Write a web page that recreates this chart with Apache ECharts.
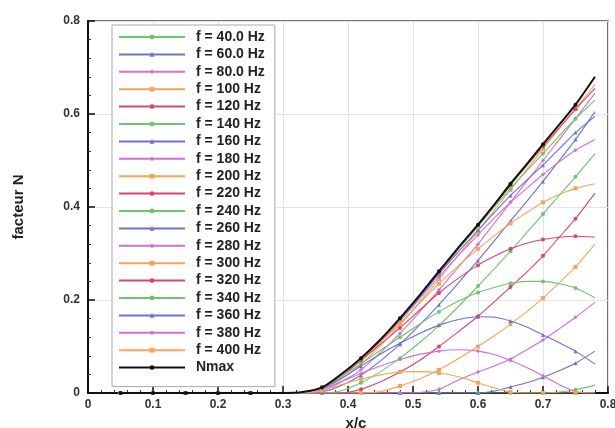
<!DOCTYPE html>
<html><head><meta charset="utf-8">
<script src="https://cdn.jsdelivr.net/npm/echarts@6/dist/echarts.min.js"></script>
<style>html,body{margin:0;padding:0;background:#fff}#c{width:615px;height:428px}</style>
</head><body><div id="c"></div>
<script>
// x positions (x/c) at which N values were read
const xs = [0.05, 0.10, 0.15, 0.20, 0.25, 0.30, 0.33, 0.36, 0.39, 0.42, 0.45, 0.48, 0.51, 0.54, 0.57, 0.60, 0.625, 0.65, 0.675, 0.70, 0.725, 0.75, 0.78];
const names = ["f = 40.0 Hz","f = 60.0 Hz","f = 80.0 Hz","f = 100 Hz","f = 120 Hz","f = 140 Hz","f = 160 Hz","f = 180 Hz","f = 200 Hz","f = 220 Hz","f = 240 Hz","f = 260 Hz","f = 280 Hz","f = 300 Hz","f = 320 Hz","f = 340 Hz","f = 360 Hz","f = 380 Hz","f = 400 Hz","Nmax"];
const Z = [0,0,0,0,0,0,0];
const f40  = Z.concat([0,0,0,0,0,0,0,0,0,0,0,0,0,0.002,0.007,0.017]);
const f60  = Z.concat([0,0,0,0,0,0,0,0,0,0.004,0.013,0.022,0.034,0.048,0.064,0.09]);
const f80  = Z.concat([0,0,0,0,0,0.001,0.008,0.028,0.045,0.058,0.073,0.093,0.114,0.138,0.163,0.195]);
const f100 = Z.concat([0,0,0,0.003,0.015,0.03,0.05,0.074,0.1,0.123,0.148,0.175,0.204,0.237,0.271,0.32]);
const f120 = Z.concat([0,0,0.008,0.024,0.045,0.07,0.1,0.132,0.165,0.196,0.228,0.26,0.295,0.335,0.375,0.43]);
const f140 = Z.concat([0,0.005,0.022,0.046,0.075,0.108,0.145,0.186,0.23,0.267,0.305,0.345,0.385,0.425,0.465,0.515]);
const f160 = Z.concat([0.002,0.016,0.038,0.069,0.105,0.146,0.19,0.237,0.285,0.327,0.37,0.412,0.455,0.5,0.545,0.605]);
const f180 = Z.concat([0.004,0.024,0.05,0.087,0.128,0.174,0.222,0.271,0.32,0.365,0.41,0.455,0.5,0.545,0.59,0.645]);
const f200 = Z.concat([0.007,0.03,0.062,0.102,0.146,0.195,0.245,0.297,0.348,0.393,0.437,0.481,0.525,0.569,0.612,0.663]);
const f220 = Z.concat([0.009,0.036,0.07,0.11,0.156,0.206,0.258,0.31,0.36,0.404,0.447,0.489,0.53,0.57,0.61,0.655]);
const f240 = Z.concat([0.011,0.04,0.074,0.115,0.16,0.209,0.26,0.31,0.358,0.4,0.44,0.478,0.515,0.553,0.59,0.63]);
const f260 = Z.concat([0.012,0.041,0.075,0.114,0.158,0.206,0.256,0.304,0.35,0.388,0.425,0.458,0.49,0.525,0.56,0.595]);
const f280 = Z.concat([0.012,0.04,0.074,0.112,0.155,0.202,0.25,0.296,0.34,0.376,0.41,0.44,0.47,0.497,0.522,0.545]);
const f300 = Z.concat([0.012,0.04,0.072,0.11,0.15,0.193,0.235,0.274,0.31,0.338,0.365,0.388,0.41,0.427,0.44,0.45]);
const f320 = Z.concat([0.012,0.04,0.07,0.105,0.14,0.178,0.215,0.247,0.275,0.294,0.31,0.322,0.33,0.335,0.337,0.335]);
const f340 = Z.concat([0.011,0.036,0.063,0.092,0.12,0.148,0.175,0.198,0.216,0.227,0.236,0.24,0.24,0.235,0.226,0.205]);
const f360 = Z.concat([0.01,0.032,0.058,0.084,0.107,0.128,0.146,0.158,0.164,0.163,0.155,0.142,0.125,0.108,0.09,0.062]);
const f380 = Z.concat([0.008,0.025,0.042,0.058,0.072,0.083,0.09,0.093,0.09,0.083,0.07,0.055,0.037,0.018,0.003,0]);
const f400 = Z.concat([0.006,0.018,0.03,0.039,0.045,0.046,0.043,0.035,0.022,0.011,0.002,0,0,0,0,0]);
const nmax = [0,0,0,0,0,0,0.002,0.012,0.041,0.075,0.115,0.161,0.21,0.262,0.313,0.362,0.405,0.45,0.492,0.535,0.577,0.62,0.68];
const allY = [f40,f60,f80,f100,f120,f140,f160,f180,f200,f220,f240,f260,f280,f300,f320,f340,f360,f380,f400,nmax];
const xTicks = ["0","0.1","0.2","0.3","0.4","0.5","0.6","0.7","0.8"];
const yTicks = ["0","0.2","0.4","0.6","0.8"];

// style
const palette = ['#6cc66c','#6b73cc','#d070d0','#f2a55a','#d8466a'];
const shapes = ['circle','triangle','diamond','rect','circle'];
const markAt = new Set([0.05,0.10,0.15,0.20,0.25,0.36,0.42,0.48,0.54,0.60,0.65,0.70,0.75]);

const series = allY.map((ys, i) => {
  const isMax = i === allY.length - 1;
  const color = isMax ? '#111' : palette[i % 5];
  const shape = isMax ? 'circle' : shapes[i % 5];
  return {
    name: names[i], type: 'line', smooth: 0.25,
    z: isMax ? 10 : 2,
    symbol: shape, symbolSize: 4,
    lineStyle: {color: color, width: isMax ? 2 : 1.1},
    itemStyle: {color: color},
    data: xs.map((x, k) => ({value: [x, ys[k]], symbol: markAt.has(x) ? shape : 'none'})),
    animation: false
  };
});

const fontFam = '"Liberation Sans", Arial, sans-serif';
const chart = echarts.init(document.getElementById('c'), null, {renderer: 'canvas'});
chart.setOption({
  animation: false,
  grid: {left: 88, right: 7, top: 21, bottom: 35, containLabel: false, outerBoundsMode: 'none',
    show: true, borderColor: '#444', borderWidth: 1.5, backgroundColor: '#fff'},
  legend: {
    orient: 'vertical', left: 112, top: 25, itemWidth: 66, itemHeight: 6, itemGap: 3.4,
    backgroundColor: '#fff', borderColor: '#aaa', borderWidth: 1, padding: [5, 10, 12, 6],
    textStyle: {fontFamily: fontFam, fontWeight: 'bold', fontSize: 14, lineHeight: 14, color: '#222', padding: [0,0,0,6]},
    data: names
  },
  xAxis: {
    type: 'value', min: 0, max: 0.8, interval: 0.1,
    name: 'x/c', nameLocation: 'middle', nameGap: 17,
    nameTextStyle: {fontFamily: fontFam, fontWeight: 'bold', fontSize: 15, color: '#222', padding: [0,0,0,16]},
    axisLine: {show: true, lineStyle: {color: '#111', width: 2}},
    axisTick: {show: true, inside: true, length: 7, lineStyle: {color: '#111', width: 1.5}},
    minorTick: {show: true, splitNumber: 5, length: 3, lineStyle: {color: '#333'}},
    axisLabel: {fontFamily: fontFam, fontWeight: 'bold', fontSize: 12, color: '#333', margin: 6,
      formatter: v => xTicks[Math.round(v * 10)]},
    splitLine: {show: true, lineStyle: {color: '#e4e4e4', width: 1}}
  },
  yAxis: {
    type: 'value', min: 0, max: 0.8, interval: 0.2,
    name: 'facteur N', nameLocation: 'middle', nameGap: 62,
    nameTextStyle: {fontFamily: fontFam, fontWeight: 'bold', fontSize: 15, color: '#222'},
    axisLine: {show: true, lineStyle: {color: '#111', width: 2}},
    axisTick: {show: true, inside: true, length: 7, lineStyle: {color: '#111', width: 1.5}},
    minorTick: {show: true, splitNumber: 5, length: 3, lineStyle: {color: '#333'}},
    axisLabel: {fontFamily: fontFam, fontWeight: 'bold', fontSize: 12, color: '#333', margin: 8,
      formatter: v => yTicks[Math.round(v * 5)]},
    splitLine: {show: true, lineStyle: {color: '#e4e4e4', width: 1}}
  },
  series: series
});
</script></body></html>
